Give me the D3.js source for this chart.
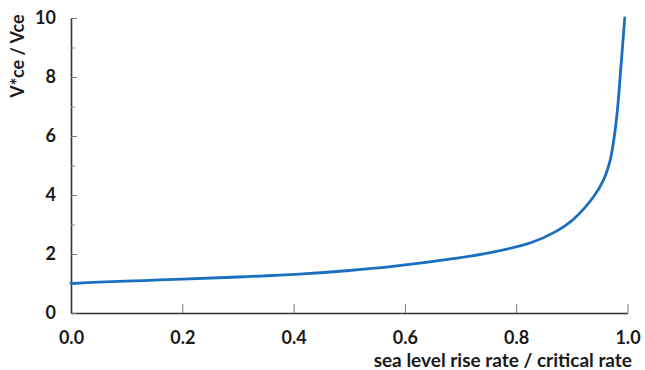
<!DOCTYPE html>
<html>
<head>
<meta charset="utf-8">
<script src="https://cdn.jsdelivr.net/npm/d3@7"></script>
<style>
  html, body { margin: 0; padding: 0; background: #fff; }
  svg { display: block; }
  text { font-family: Lato, "Open Sans", sans-serif; font-weight: bold; fill: #1a1a1a; }
</style>
</head>
<body>
<svg id="chart" width="645" height="370"></svg>
<script>
// Ratio of sea level rise rate to the critical rate
const rateRatio = [0, 0.05, 0.13, 0.2, 0.3, 0.41, 0.5, 0.574, 0.69, 0.76, 0.826, 0.87, 0.903, 0.939, 0.957, 0.969, 0.976, 0.982, 0.988, 0.995];
// V*ce / Vce
const velocityRatio = [1.0, 1.05, 1.1, 1.15, 1.22, 1.32, 1.44, 1.57, 1.85, 2.07, 2.38, 2.75, 3.18, 3.94, 4.51, 5.19, 5.95, 6.9, 8.3, 10.0];

const xTicks = [0, 0.2, 0.4, 0.6, 0.8, 1.0];
const xTickLabels = ["0.0", "0.2", "0.4", "0.6", "0.8", "1.0"];
const yMajorTicks = [0, 2, 4, 6, 8, 10];
const yMinorTicks = [1, 3, 5, 7, 9];

const svg = d3.select("#chart");
const plotLeft = 71, plotRight = 627.5, plotTop = 18, plotBottom = 313;

const x = d3.scaleLinear().domain([0, 1]).range([plotLeft, plotRight]);
const y = d3.scaleLinear().domain([0, 10]).range([plotBottom, plotTop]);

// x axis: ticks point up into the plot
const xAxis = d3.axisBottom(x)
  .tickValues(xTicks)
  .tickSizeInner(-9)
  .tickSizeOuter(0)
  .tickPadding(18)
  .tickFormat((d, i) => xTickLabels[i]);

const gx = svg.append("g").attr("transform", `translate(0,${plotBottom})`).call(xAxis);
gx.select(".domain").attr("stroke", "#333").attr("stroke-width", 1.6);
gx.selectAll(".tick line").attr("stroke", "#777").attr("stroke-width", 1);
gx.selectAll(".tick text")
  .attr("font-size", 18).attr("font-family", "Lato, sans-serif").attr("font-weight", "bold")
  .attr("fill", "#1a1a1a");

// y axis: major and minor ticks point right into the plot
const yAxis = d3.axisLeft(y)
  .tickValues(yMajorTicks)
  .tickSizeInner(-6)
  .tickSizeOuter(0)
  .tickPadding(15)
  .tickFormat(d3.format("d"));

const gy = svg.append("g").attr("transform", `translate(${plotLeft},0)`).call(yAxis);
gy.select(".domain").attr("stroke", "#333").attr("stroke-width", 1.6);
gy.selectAll(".tick line").attr("stroke", "#777").attr("stroke-width", 1);
gy.selectAll(".tick text")
  .attr("font-size", 18).attr("font-family", "Lato, sans-serif").attr("font-weight", "bold")
  .attr("fill", "#1a1a1a");

const gyMinor = svg.append("g").attr("transform", `translate(${plotLeft},0)`)
  .call(d3.axisLeft(y).tickValues(yMinorTicks).tickSizeInner(-4).tickSizeOuter(0).tickFormat(""));
gyMinor.select(".domain").remove();
gyMinor.selectAll(".tick line").attr("stroke", "#888").attr("stroke-width", 1);

// curve
const pts = rateRatio.map((r, i) => [r, velocityRatio[i]]);
const line = d3.line()
  .x(d => x(d[0]))
  .y(d => y(d[1]))
  .curve(d3.curveCatmullRom.alpha(0.5));

svg.append("path")
  .datum(pts)
  .attr("fill", "none")
  .attr("stroke", "#1b6fc1")
  .attr("stroke-width", 2.8)
  .attr("stroke-linejoin", "round")
  .attr("stroke-linecap", "round")
  .attr("d", line);

// axis titles
svg.append("text")
  .attr("x", 632).attr("y", 367)
  .attr("text-anchor", "end")
  .attr("font-size", 19)
  .text("sea level rise rate / critical rate");

svg.append("text")
  .attr("transform", "translate(24,56) rotate(-90)")
  .attr("text-anchor", "middle")
  .attr("font-size", 18)
  .text("V*ce / Vce");
</script>
</body>
</html>
